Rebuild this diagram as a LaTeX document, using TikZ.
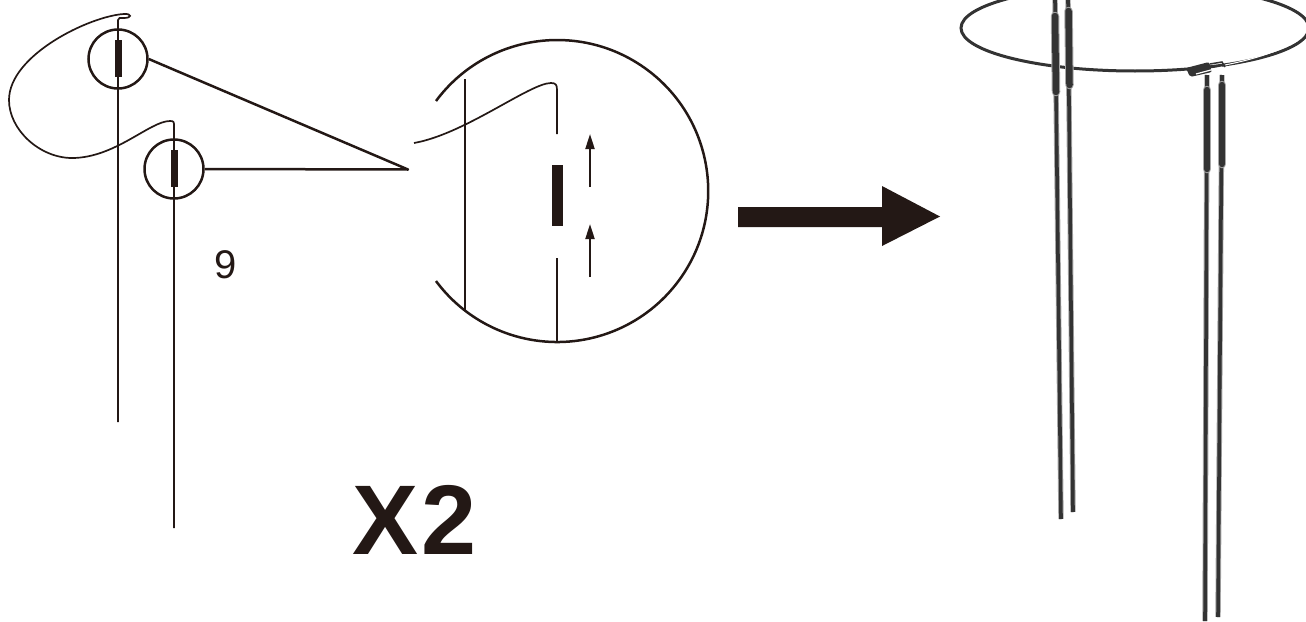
\documentclass[tikz,border=0pt]{standalone}
\usepackage{fontspec}
\setmainfont{Liberation Sans}
\usetikzlibrary{arrows.meta}
\definecolor{ink}{HTML}{231815}
\definecolor{photo}{HTML}{333333}
\definecolor{halo}{HTML}{A8A8A8}
\tikzset{
  x=1pt,y=-1pt,
  wire/.style={draw=ink,line width=1.7pt},
  ringline/.style={draw=ink,line width=2.5pt},
  tube/.style={fill=ink,draw=none},
  smallarrow/.style={draw=ink,line width=2pt,-{Triangle[length=15pt,width=9pt]}},
  rod/.style={draw=photo,line width=3.6pt,preaction={draw=halo,line width=5.4pt}},
  sleeve/.style={draw=photo,line width=6.5pt,line cap=round,preaction={draw=halo,line width=8.5pt,line cap=round}},
}
\begin{document}
\begin{tikzpicture}
\useasboundingbox (0,0) rectangle (1306,621);
% left drawing
\node[circle,ringline,minimum size=59pt,inner sep=0pt] (c1) at (118,59) {};
\node[circle,ringline,minimum size=59pt,inner sep=0pt] (c2) at (174,169) {};
\coordinate (apex) at (408,169.5);
\draw[wire] (118,422) -- (118,20) .. controls (118,17.5) and (120,18) .. (124,18)
  .. controls (132,18) and (132,13.5) .. (124,14)
  .. controls (90,16) and (9,55) .. (9,100)
  .. controls (9,130) and (40,158) .. (72,158)
  .. controls (115,158) and (150,121) .. (170,121)
  .. controls (174,121) and (174,122) .. (174,126) -- (174,528);
\path[tube] (115,40) rectangle (122,77);
\path[tube] (171,150) rectangle (178,187);
\draw[ringline,line join=round] (c1.east) -- (apex) -- (c2.east);
\node[font=\fontsize{40}{40}\selectfont,text=ink,inner sep=0pt] (nine) at (226,265) {9};
\node[font=\fontsize{99}{99}\selectfont\bfseries,text=ink,inner sep=0pt] (times) at (414.5,520) {X\kern3pt 2};
% detail circle
\draw[ringline] (436,101) arc[start angle=-143.4,end angle=143.4,radius=151];
\coordinate (b1) at (465,79);
\coordinate (b2) at (465,310);
\draw[wire] (b1) -- (b2);
\draw[wire] (414,143) .. controls (465,134) and (530,83) .. (551,83)
  .. controls (556,83) and (557,85) .. (557,90) -- (557,134);
\draw[wire] (557,258) -- (557,342);
\path[tube] (552,165) rectangle (563,226);
\draw[smallarrow] (590,187) -- (590,134);
\draw[smallarrow] (590,277) -- (590,224);
% big arrow
\path[fill=ink] (738,207) -- (882,207) -- (882,186) -- (940,216.5) -- (882,246) -- (882,227) -- (738,227) -- cycle;
% photo
\begin{scope}
\clip (940,0) rectangle (1306,621);
\draw[photo,line width=3pt] (1135,28) ellipse[x radius=174,y radius=43];
\draw[white,line width=1pt] (1225,65) .. controls (1250,60) and (1275,53) .. (1297,41);
\draw[rod] (1055,0) -- (1061,519);
\draw[rod] (1068,0) -- (1073,512);
\draw[sleeve] (1055,16) -- (1056,92);
\draw[sleeve] (1068.5,11) -- (1069.5,85);
\draw[rod] (1207,75) -- (1205,621);
\draw[rod] (1222,75) -- (1218,617);
\draw[sleeve] (1207,90) -- (1207,169);
\draw[sleeve] (1222,85) -- (1222,164);
\path[fill=photo,rounded corners=2pt] (1186,68) -- (1209,62) -- (1212,72) -- (1190,77) -- cycle;
\draw[white,line width=1.2pt] (1196,74) -- (1222,67);
\draw[photo,line width=1.5pt] (1210,64) -- (1222,62) -- (1225,67);
\end{scope}
\end{tikzpicture}
\end{document}
